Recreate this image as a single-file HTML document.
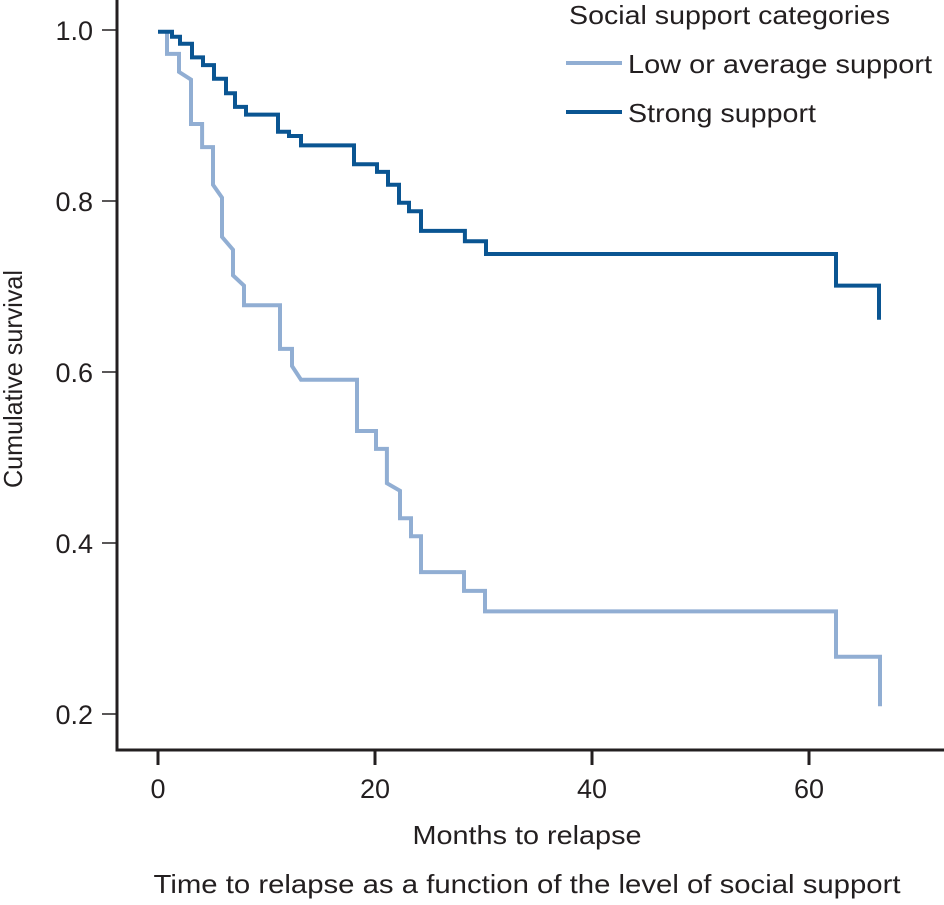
<!DOCTYPE html>
<html><head><meta charset="utf-8"><style>
body{margin:0;background:#fff;}
svg text{font-family:"Liberation Sans",sans-serif;fill:#231f20;}
</style></head><body>
<svg width="944" height="900" viewBox="0 0 944 900">
<g id="axes"></g>
<g id="series"></g>
<g id="legend">
<text x="569" y="24" font-size="26" textLength="321" lengthAdjust="spacingAndGlyphs">Social support categories</text>
<g>
<line x1="566" y1="63" x2="622" y2="63" stroke="#91aed3" stroke-width="4"/>
<text x="628" y="73" font-size="26" textLength="304" lengthAdjust="spacingAndGlyphs">Low or average support</text></g>
<g>
<line x1="566" y1="112" x2="622" y2="112" stroke="#0a5592" stroke-width="4"/>
<text x="628" y="122" font-size="26" textLength="188" lengthAdjust="spacingAndGlyphs">Strong support</text></g>
</g>
<text x="22" y="379" font-size="26" text-anchor="middle" textLength="218" lengthAdjust="spacingAndGlyphs" transform="rotate(-90 22 379)">Cumulative survival</text>
<text x="527" y="844" font-size="26" text-anchor="middle" textLength="229" lengthAdjust="spacingAndGlyphs">Months to relapse</text>
<text x="527" y="893" font-size="26" text-anchor="middle" textLength="747" lengthAdjust="spacingAndGlyphs">Time to relapse as a function of the level of social support</text>
</svg>
<script>
const xTicks=[0,20,40,60];
const yTicks=[0.2,0.4,0.6,0.8,1.0];
const yTickLabels=["0.2","0.4","0.6","0.8","1.0"];
const lowT=[0.83,0.83,1.94,1.94,3.04,3.04,4.06,4.06,5.07,5.07,5.9,5.9,6.91,6.91,7.93,7.93,11.24,11.24,12.35,12.35,13.18,18.34,18.34,20.09,20.09,21.1,21.1,22.3,22.3,23.32,23.32,24.24,24.24,28.2,28.2,30.14,30.14,62.49,62.49,66.54,66.54];
const lowS=[1,0.972,0.972,0.951,0.942,0.890,0.890,0.863,0.863,0.819,0.804,0.758,0.743,0.713,0.701,0.678,0.678,0.627,0.627,0.607,0.591,0.591,0.531,0.531,0.510,0.510,0.470,0.461,0.429,0.429,0.408,0.408,0.366,0.366,0.344,0.344,0.320,0.320,0.267,0.267,0.209];
const strongT=[0,1.29,1.29,2.03,2.03,3.13,3.13,4.15,4.15,5.16,5.16,6.27,6.27,7.1,7.1,8.11,8.11,11.06,11.06,12.07,12.07,13.18,13.18,18.06,18.06,20.18,20.18,21.2,21.2,22.21,22.21,23.13,23.13,24.24,24.24,28.29,28.29,30.23,30.23,62.49,62.49,66.45,66.45];
const strongS=[0.998,0.998,0.992,0.992,0.984,0.984,0.968,0.968,0.959,0.959,0.943,0.943,0.926,0.926,0.910,0.910,0.901,0.901,0.881,0.881,0.876,0.876,0.865,0.865,0.843,0.843,0.834,0.834,0.819,0.819,0.798,0.798,0.788,0.788,0.765,0.765,0.753,0.753,0.738,0.738,0.701,0.701,0.661];
const NS="http://www.w3.org/2000/svg";
function X(t){return 158+t*10.85;}
function Y(s){return 30+(1-s)*855;}
function mk(tag,attrs,parent){const e=document.createElementNS(NS,tag);for(const k in attrs)e.setAttribute(k,attrs[k]);parent.appendChild(e);return e;}
const ax=document.getElementById('axes');
let a=mk('path',{d:'M117,0 V750 H944',fill:'none',stroke:'#231f20','stroke-width':3},ax);


yTicks.forEach((v,i)=>{
 let l=mk('line',{x1:102,x2:117,y1:Y(v),y2:Y(v),stroke:'#231f20','stroke-width':1.5},ax);
 
 
 let t=mk('text',{x:93,y:Y(v)+10,'font-size':27,'text-anchor':'end'},ax);
 t.textContent=yTickLabels[i];
 
 
});
xTicks.forEach(v=>{
 let l=mk('line',{x1:X(v),x2:X(v),y1:750,y2:765,stroke:'#231f20','stroke-width':3},ax);
 
 
 let t=mk('text',{x:X(v),y:798,'font-size':27,'text-anchor':'middle'},ax);
 t.textContent=String(v);
 
 
});
const sg=document.getElementById('series');
function draw(T,S,color,name){
 const pts=T.map((t,i)=>X(t).toFixed(1)+','+Y(S[i]).toFixed(1)).join(' ');
 let p=mk('polyline',{points:pts,fill:'none',stroke:color,'stroke-width':4,'stroke-linejoin':'miter'},sg);
 
 
}
draw(lowT,lowS,'#91aed3','low-support-curve');
draw(strongT,strongS,'#0a5592','strong-support-curve');
</script>
</body></html>
